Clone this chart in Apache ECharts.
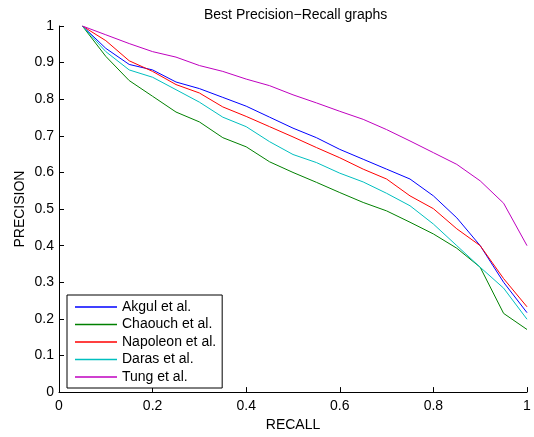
<!DOCTYPE html>
<html>
<head>
<meta charset="utf-8">
<script src="https://cdn.jsdelivr.net/npm/echarts@6/dist/echarts.min.js"></script>
<style>
  html, body { margin: 0; padding: 0; background: #fff; }
  #chart { width: 534px; height: 437px; }
</style>
</head>
<body>
<div id="chart"></div>
<script>
// recall points shared by every curve
var recall = [0.05, 0.1, 0.15, 0.2, 0.25, 0.3, 0.35, 0.4, 0.45, 0.5, 0.55, 0.6, 0.65, 0.7, 0.75, 0.8, 0.85, 0.9, 0.95, 1.0];

var akgul    = [1.0, 0.939, 0.895, 0.880, 0.847, 0.829, 0.805, 0.781, 0.751, 0.721, 0.695, 0.663, 0.636, 0.609, 0.582, 0.536, 0.476, 0.400, 0.300, 0.217];
var chaouch  = [1.0, 0.917, 0.851, 0.808, 0.765, 0.738, 0.695, 0.670, 0.629, 0.600, 0.573, 0.545, 0.518, 0.495, 0.464, 0.432, 0.393, 0.341, 0.215, 0.171];
var napoleon = [1.0, 0.960, 0.905, 0.876, 0.840, 0.817, 0.779, 0.753, 0.725, 0.697, 0.668, 0.640, 0.609, 0.582, 0.536, 0.501, 0.446, 0.400, 0.310, 0.233];
var daras    = [1.0, 0.930, 0.880, 0.860, 0.826, 0.792, 0.751, 0.725, 0.684, 0.649, 0.627, 0.598, 0.574, 0.543, 0.509, 0.459, 0.400, 0.341, 0.284, 0.199];
var tung     = [1.0, 0.976, 0.952, 0.930, 0.915, 0.892, 0.876, 0.855, 0.837, 0.812, 0.790, 0.767, 0.745, 0.717, 0.686, 0.654, 0.622, 0.577, 0.516, 0.400];

var names  = ["Akgul et al.", "Chaouch et al.", "Napoleon et al.", "Daras et al.", "Tung et al."];
var colors = ["#0000ff", "#008000", "#ff0000", "#00bfbf", "#bf00bf"];

function pairs(ys){
    var out = [];
    for (var i = 0; i < recall.length; i++) out.push([recall[i], ys[i]]);
    return out;
}

var chart = echarts.init(document.getElementById("chart"));
var fontFam = "Liberation Sans, Arial, sans-serif";
var allData = [akgul, chaouch, napoleon, daras, tung];

var series = [];
for (var k = 0; k < names.length; k++) {
    series.push({
        name: names[k],
        type: "line",
        data: pairs(allData[k]),
        symbol: "none",
        lineStyle: { color: colors[k], width: 1 },
        itemStyle: { color: colors[k] },
        animation: false
    });
}

chart.setOption({
    animation: false,
    title: {
        text: "Best Precision\u2212Recall graphs",
        left: 199,
        top: 3,
        textStyle: { fontFamily: fontFam, fontSize: 14, fontWeight: "normal", color: "#000" }
    },
    grid: { left: 59, right: 7, top: 26, bottom: 43 },
    legend: {
        orient: "vertical",
        left: 67,
        top: 295,
        data: names,
        icon: "rect",
        itemWidth: 42,
        itemHeight: 1.5,
        itemGap: 1.5,
        padding: [4, 6, 3, 8],
        borderColor: "#000",
        borderWidth: 1,
        borderRadius: 0,
        backgroundColor: "#fff",
        textStyle: { fontFamily: fontFam, fontSize: 14, lineHeight: 16, color: "#000" }
    },
    xAxis: {
        type: "value",
        min: 0, max: 1, interval: 0.2,
        name: "RECALL",
        nameLocation: "middle",
        nameGap: 21,
        nameTextStyle: { fontFamily: fontFam, fontSize: 14, color: "#000" },
        axisLine: { lineStyle: { color: "#000", width: 1 } },
        axisTick: { inside: true, length: 5, lineStyle: { color: "#000" } },
        axisLabel: {
            fontFamily: fontFam, fontSize: 14, color: "#000", margin: 7,
            formatter: function(v){ return +v.toFixed(1) + ""; }
        },
        splitLine: { show: false }
    },
    yAxis: {
        type: "value",
        min: 0, max: 1, interval: 0.1,
        name: "PRECISION",
        nameLocation: "middle",
        nameGap: 32,
        nameMoveOverlap: false,
        nameTextStyle: { fontFamily: fontFam, fontSize: 14, color: "#000" },
        axisLine: { show: true, lineStyle: { color: "#000", width: 1 } },
        axisTick: { show: true, inside: true, length: 5, lineStyle: { color: "#000" } },
        axisLabel: {
            fontFamily: fontFam, fontSize: 14, color: "#000", margin: 5,
            formatter: function(v){ return +v.toFixed(1) + ""; }
        },
        splitLine: { show: false }
    },
    series: series
});
</script>
</body>
</html>
